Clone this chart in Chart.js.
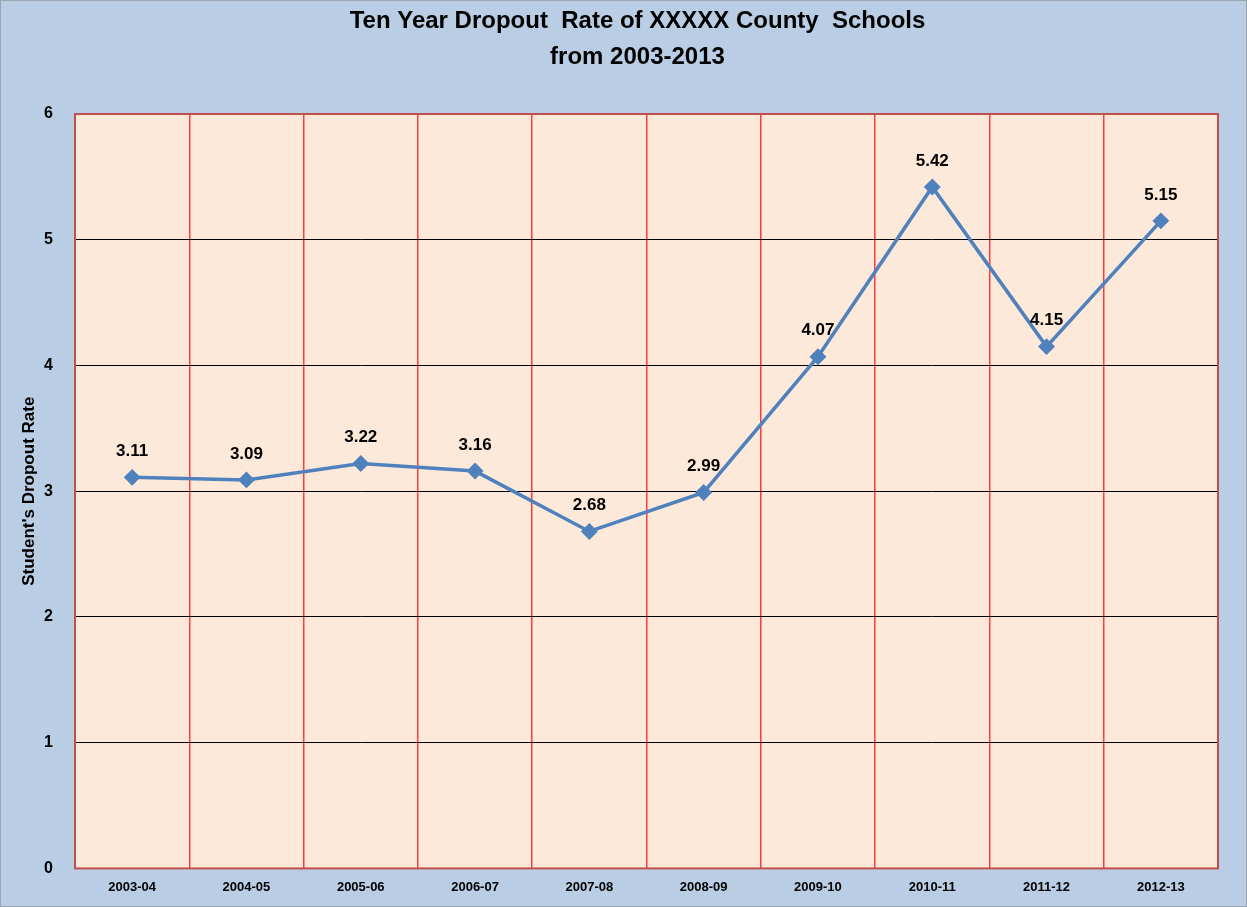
<!DOCTYPE html>
<html>
<head>
<meta charset="utf-8">
<script src="https://cdn.jsdelivr.net/npm/chart.js@4.4.0/dist/chart.umd.min.js"></script>
<style>
  html, body { margin: 0; padding: 0; background: #b9cde5; }
  #wrap { width: 1247px; height: 907px; box-sizing: border-box; border: 1px solid #9aa5b1; }
</style>
</head>
<body>
<div id="wrap"><canvas id="dropoutChart" width="1245" height="905"></canvas></div>
<script>
var years = ['2003-04', '2004-05', '2005-06', '2006-07', '2007-08', '2008-09', '2009-10', '2010-11', '2011-12', '2012-13'];
var rates = [3.11, 3.09, 3.22, 3.16, 2.68, 2.99, 4.07, 5.42, 4.15, 5.15];
var yTicks = [0, 1, 2, 3, 4, 5, 6];

Chart.defaults.font.family = '"Liberation Sans", Arial, sans-serif';
Chart.defaults.color = '#000';

// 플롯 영역 배경 + 테두리
var plotArea = {
    id: 'plotArea',
    beforeDraw: function (chart) {
        var a = chart.chartArea, c = chart.ctx;
        c.save();
        c.fillStyle = '#fde9d9';
        c.fillRect(a.left, a.top, a.right - a.left, a.bottom - a.top);
        c.restore();
    },
    afterDraw: function (chart) {
        var a = chart.chartArea, c = chart.ctx;
        c.save();
        c.strokeStyle = '#c0504d';
        c.lineWidth = 2;
        c.strokeRect(a.left, a.top, a.right - a.left, a.bottom - a.top);
        c.restore();
    }
};

// 값 라벨
var valueLabels = {
    id: 'valueLabels',
    afterDatasetsDraw: function (chart) {
        var c = chart.ctx;
        var meta = chart.getDatasetMeta(0);
        c.save();
        c.font = 'bold 17px "Liberation Sans", Arial, sans-serif';
        c.fillStyle = '#000';
        c.textAlign = 'center';
        c.textBaseline = 'middle';
        meta.data.forEach(function (pt, i) {
            c.fillText(rates[i].toFixed(2), pt.x, pt.y - 26);
        });
        c.restore();
    }
};

var ctx = document.getElementById('dropoutChart').getContext('2d');
var dropoutChart = new Chart(ctx, {
    type: 'line',
    data: {
        labels: years,
        datasets: [{
            label: 'Dropout Rate',
            data: rates,
            borderColor: '#4f81bd',
            backgroundColor: '#4f81bd',
            borderWidth: 3.5,
            pointStyle: 'rectRot',
            pointRadius: 6,
            pointHoverRadius: 6,
            tension: 0
        }]
    },
    options: {
        responsive: false,
        animation: false,
        // 제목을 가운데 맞추려고 왼쪽 여백을 크게 둠 (y축 폭은 afterFit에서 줄임)
        layout: { padding: { left: 56, right: 28, top: 0, bottom: 0 } },
        plugins: {
            legend: { display: false },
            tooltip: { enabled: false },
            title: {
                display: true,
                text: ['Ten Year Dropout  Rate of XXXXX County  Schools', 'from 2003-2013'],
                font: { size: 24, weight: 'bold', lineHeight: 1.5 },
                color: '#000',
                padding: { top: 2, bottom: 39 }
            }
        },
        scales: {
            x: {
                offset: true,
                grid: { color: '#ff3b3b', lineWidth: 1.5, offset: true, drawTicks: false },
                border: { color: '#c0504d' },
                ticks: { font: { size: 13, weight: 'bold' }, padding: 11, color: '#000' }
            },
            y: {
                min: 0,
                max: 6,
                afterFit: function (s) { s.width = 18; },
                afterBuildTicks: function (s) { s.ticks = yTicks.map(function (v) { return { value: v }; }); },
                grid: { color: '#000', lineWidth: 1, drawTicks: false },
                border: { color: '#c0504d' },
                // mirror를 쓰면 라벨이 축 박스 밖으로 잘리지 않음
                ticks: { font: { size: 16, weight: 'bold' }, mirror: true, crossAlign: 'center', padding: -31, color: '#000' },
                title: {
                    display: true,
                    text: "Student's Dropout Rate",
                    font: { size: 17, weight: 'bold' },
                    padding: { top: -38, bottom: 0 }
                }
            }
        }
    },
    plugins: [plotArea, valueLabels]
});
</script>
</body>
</html>
